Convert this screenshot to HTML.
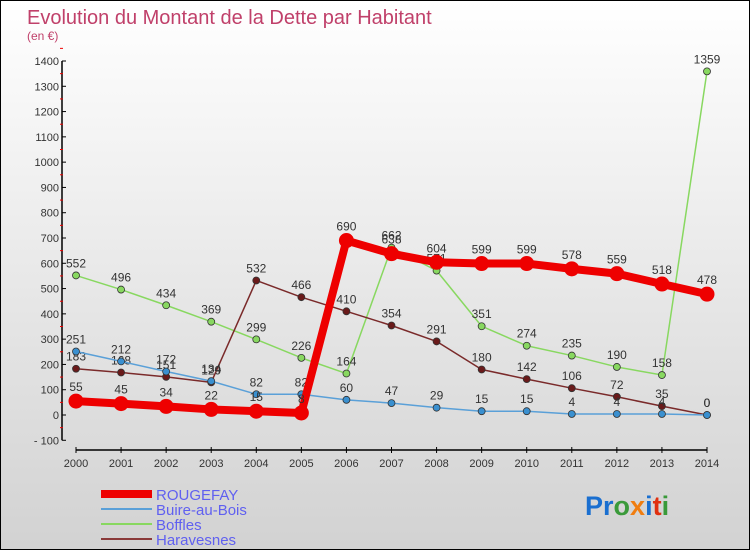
<!DOCTYPE html>
<html><head><meta charset="utf-8"><style>
body{margin:0}
#c{width:750px;height:550px;position:relative;box-sizing:border-box;border:1px solid #000;background:linear-gradient(#fff,#d2d2d2);font-family:"Liberation Sans",sans-serif;overflow:hidden}
</style></head><body>
<div id="c">
<svg id="s" width="750" height="550" style="position:absolute;left:0;top:0">
<text x="26" y="23" font-size="20" fill="#c0406a">Evolution du Montant de la Dette par Habitant</text>
<text x="26" y="39" font-size="12" fill="#c0406a">(en €)</text>
<g id="ax"></g><g id="series"></g>
<text x="584" y="514" font-size="27" font-weight="bold"><tspan fill="#1a6fd0">Pr</tspan><tspan fill="#3a9a3a">o</tspan><tspan fill="#f07d10">x</tspan><tspan fill="#1a6fd0">i</tspan><tspan fill="#e03010">t</tspan><tspan fill="#3a9a3a">i</tspan></text>
</svg>
</div>
<script>
const years=[2000,2001,2002,2003,2004,2005,2006,2007,2008,2009,2010,2011,2012,2013,2014];
const yTicks=[-100,0,100,200,300,400,500,600,700,800,900,1000,1100,1200,1300,1400];
const rougefay=[55,45,34,22,15,8,690,638,604,599,599,578,559,518,478];
const buire=[251,212,172,134,82,82,60,47,29,15,15,4,4,4,0];
const boffles=[552,496,434,369,299,226,164,662,571,351,274,235,190,158,1359];
const haravesnes=[183,168,151,129,532,466,410,354,291,180,142,106,72,35,0];
const NS="http://www.w3.org/2000/svg";
const X=i=>75+i*(706-75)/14;
const Y=v=>414-v*(414-60)/1400;
function mk(t,a,p){const e=document.createElementNS(NS,t);for(const k in a)e.setAttribute(k,a[k]);p.appendChild(e);return e;}
const ax=document.getElementById('ax');
let l=mk('line',{x1:61,y1:Y(1400),x2:61,y2:Y(-100),stroke:'#000','stroke-width':1.5},ax);


yTicks.forEach(v=>{
 mk('line',{x1:61,y1:Y(v),x2:65,y2:Y(v),stroke:'#000'},ax);
 mk('line',{x1:59,y1:Y(v+50),x2:62,y2:Y(v+50),stroke:'#e00'},ax);
 const t=mk('text',{x:58,y:Y(v)+4,'font-size':11,fill:'#333','text-anchor':'end'},ax);
 t.textContent=v<0?'- '+(-v):v;
 
 
});
l=mk('line',{x1:75,y1:449,x2:706,y2:449,stroke:'#000','stroke-width':1.5},ax);


years.forEach((yr,i)=>{
 mk('line',{x1:X(i),y1:446,x2:X(i),y2:452,stroke:'#000'},ax);
 const t=mk('text',{x:X(i),y:466,'font-size':11,fill:'#333','text-anchor':'middle'},ax);
 t.textContent=yr;
 
 
});
const sg=document.getElementById('series');
function draw(data,color,w,r,name,fill){
 const g=mk('g',{},sg);
 
 
 mk('polyline',{points:data.map((v,i)=>X(i)+','+Y(v)).join(' '),fill:'none',stroke:color,'stroke-width':w,'stroke-linejoin':'round'},g);
 data.forEach((v,i)=>{
  const c=mk('circle',{cx:X(i),cy:Y(v),r:r,fill:fill,stroke:'#333','stroke-width':r>6?0:0.8},g);
  
  
  const t=mk('text',{x:X(i),y:Y(v)-(r>6?10:8),'font-size':12,fill:'#333','text-anchor':'middle'},g);
  t.textContent=v;
  
  
 });
}
draw(boffles,'#88d860',1.5,3.5,'boffles','#88d860');
draw(haravesnes,'#7a2a2a',1.5,3.5,'haravesnes','#6a1a1a');
draw(buire,'#5aa0d8',1.5,3.5,'buire-au-bois','#3a90d0');
draw(rougefay,'#ee0000',8,7.5,'rougefay','#ee0000');
const leg=[['ROUGEFAY','#ee0000',8],['Buire-au-Bois','#5aa0d8',2],['Boffles','#88d860',2],['Haravesnes','#8a3a3a',2]];
leg.forEach((e,i)=>{
 const y=493+i*15;
 const g=mk('g',{},sg);
 
 
 mk('line',{x1:100,y1:y,x2:151,y2:y,stroke:e[1],'stroke-width':e[2]},g);
 const t=mk('text',{x:155,y:y+6,'font-size':15,fill:'#6060f0'},g);
 t.textContent=e[0];
});
</script>
</body></html>
